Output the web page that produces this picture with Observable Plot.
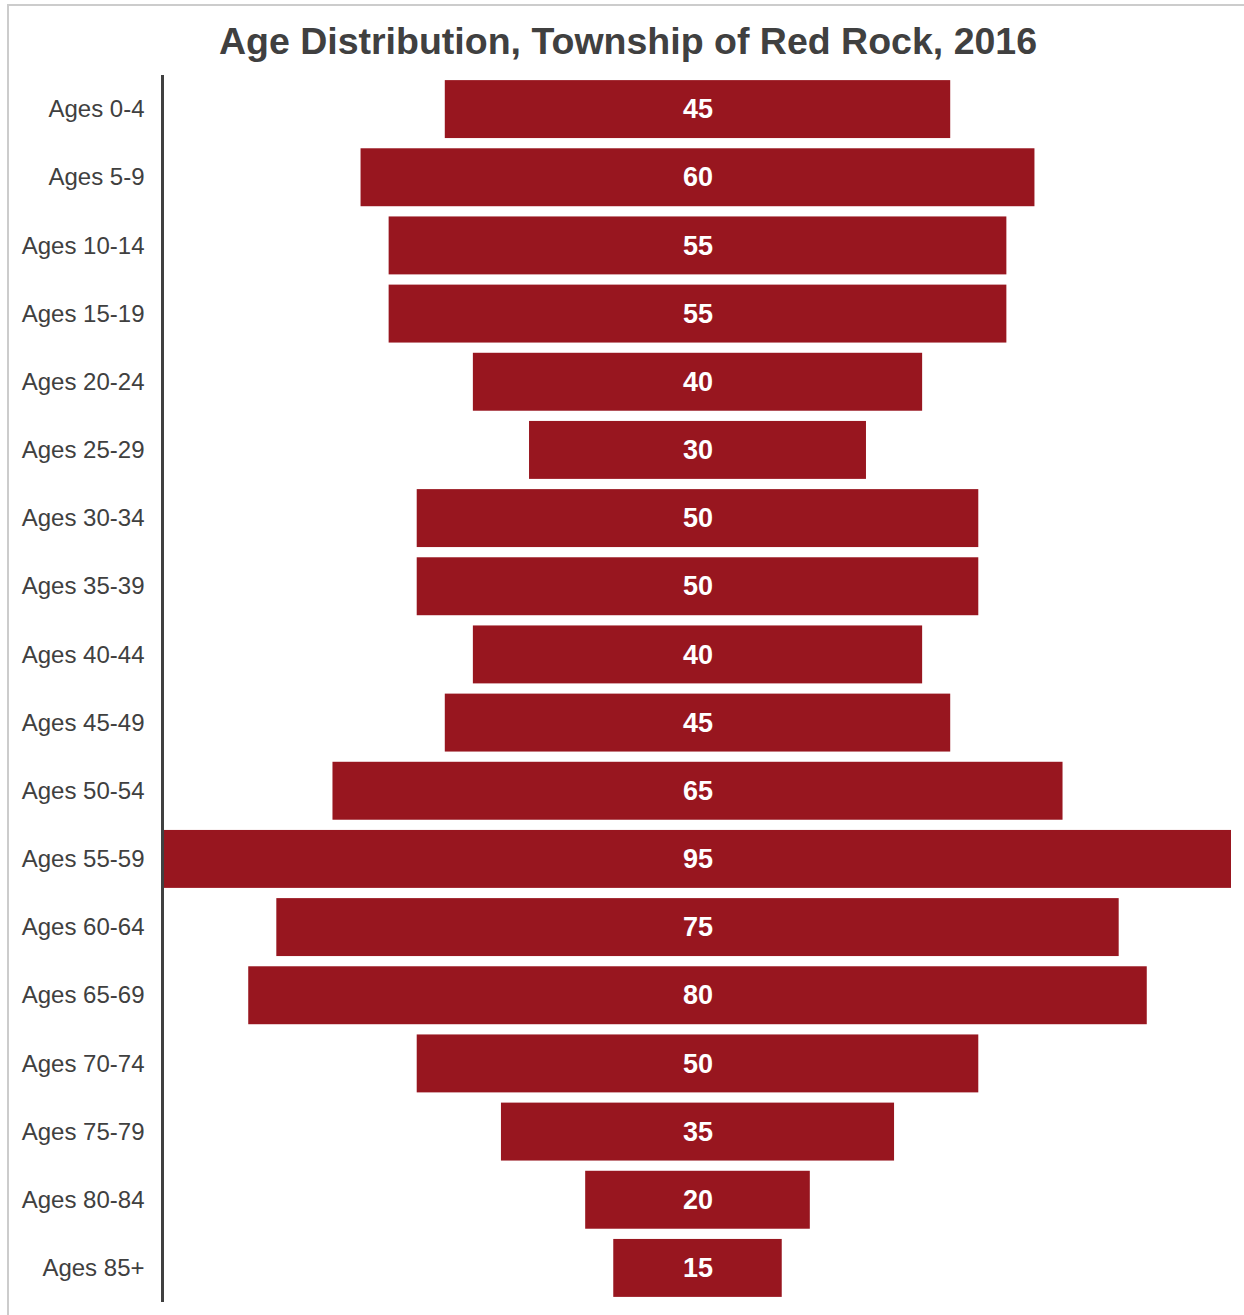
<!DOCTYPE html>
<html>
<head>
<meta charset="utf-8">
<script src="https://cdn.jsdelivr.net/npm/d3@7"></script>
<script src="https://cdn.jsdelivr.net/npm/@observablehq/plot@0.6"></script>
<style>
  html, body { margin: 0; padding: 0; background: #fff; }
  body { position: relative; width: 1244px; height: 1315px; overflow: hidden; font-family: "Liberation Sans", Arial, sans-serif; }
  #frame { position: absolute; left: 7px; top: 4px; width: 1400px; height: 1400px; border-top: 2px solid #cccccc; border-left: 2px solid #cccccc; box-sizing: border-box; }
  #title { position: absolute; left: 12px; width: 1232px; top: 18.5px; text-align: center; font-weight: bold; font-size: 37.5px; color: #404040; line-height: 44px; white-space: nowrap; }
  #chart { position: absolute; left: 0; top: 0; }
</style>
</head>
<body>
<div id="frame"></div>
<div id="chart"></div>
<div id="title">Age Distribution, Township of Red Rock, 2016</div>
<script>
const ageGroups = ["Ages 0-4","Ages 5-9","Ages 10-14","Ages 15-19","Ages 20-24","Ages 25-29","Ages 30-34","Ages 35-39","Ages 40-44","Ages 45-49","Ages 50-54","Ages 55-59","Ages 60-64","Ages 65-69","Ages 70-74","Ages 75-79","Ages 80-84","Ages 85+"];
const counts = [45,60,55,55,40,30,50,50,40,45,65,95,75,80,50,35,20,15];

const data = ageGroups.map((g, i) => ({group: g, value: counts[i]}));
const maxV = d3.max(counts);

const chart = Plot.plot({
  width: 1244,
  height: 1315,
  marginTop: 75,
  marginBottom: 13,
  marginLeft: 164,
  marginRight: 13,
  style: {fontFamily: "'Liberation Sans', Arial, sans-serif", background: "transparent"},
  x: {domain: [-maxV / 2, maxV / 2], axis: null},
  y: {domain: ageGroups, paddingInner: 0.15, paddingOuter: 0.075, round: false, label: null},
  marks: [
    Plot.barX(data, {y: "group", x1: d => -d.value / 2, x2: d => d.value / 2, fill: "#98161f"}),
    Plot.text(data, {y: "group", x: 0, text: d => String(d.value), fill: "white", fontWeight: "bold", fontSize: 27}),
    Plot.axisY({tickSize: 0, tickPadding: 20, fontSize: 24, fill: "#404040", color: "#404040"}),
    Plot.ruleX([-maxV / 2], {dx: -2, stroke: "#404040", strokeWidth: 3})
  ]
});
document.getElementById("chart").appendChild(chart);
</script>
</body>
</html>
